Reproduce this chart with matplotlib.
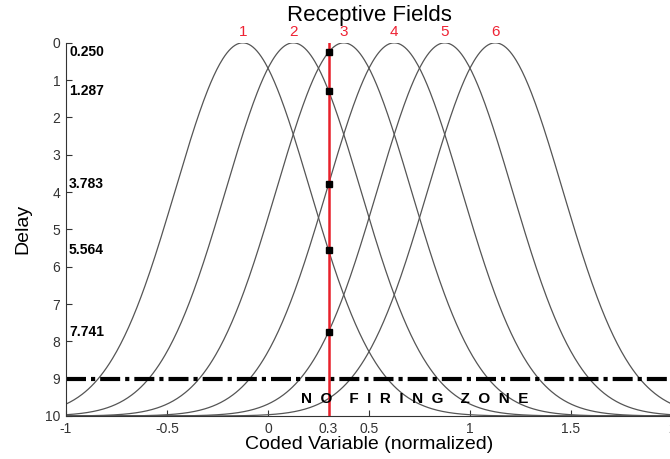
import numpy as np
import matplotlib.pyplot as plt

plt.rcParams['font.family'] = ['Liberation Sans', 'DejaVu Sans']

# receptive field centres (numbered 1..6), width and max delay
centers = [-0.125, 0.125, 0.375, 0.625, 0.875, 1.125]
field_names = ['1', '2', '3', '4', '5', '6']
sigma = 1 / 3
max_delay = 10

# coded value and the delays it produces (fields 3, 2, 4, 1, 5)
x_coded = 0.3
delays = [0.250, 1.287, 3.783, 5.564, 7.741]
delay_labels = ['0.250', '1.287', '3.783', '5.564', '7.741']

no_fire = 9

xticks = [-1, -0.5, 0, 0.3, 0.5, 1, 1.5, 2]
xticklabels = ['-1', '-0.5', '0', '0.3', '0.5', '1', '1.5', '2']

fig = plt.figure(figsize=(6.7, 4.59), dpi=100)
ax = fig.add_axes([0.0985, 0.0937, 0.9045, 0.813])

x = np.linspace(-1, 2, 600)
for c, name in zip(centers, field_names):
    y = max_delay * (1 - np.exp(-(x - c) ** 2 / (2 * sigma ** 2)))
    ax.plot(x, y, color='#555555', lw=0.9)
    ax.text(c, -0.1, name, color='#ee2233', fontsize=11, ha='center', va='bottom')

# red line for the coded value and the resulting delays
ax.plot([x_coded, x_coded], [0, max_delay], color='#e8202a', lw=1.8, zorder=3)
ax.plot([x_coded] * len(delays), delays, 's', color='black', ms=4.5, zorder=4)

for d, lab in zip(delays, delay_labels):
    ax.text(-0.985, d, lab, fontsize=10, fontweight='bold', ha='left', va='center')

ax.plot([-1, 2], [no_fire, no_fire], color='black', lw=3,
        linestyle=(0, (4.8, 1.2, 1, 1.2)), zorder=2)
ax.text(0.725, 9.55, 'N  O    F  I  R  I  N  G    Z  O  N  E', fontsize=11,
        fontweight='bold', ha='center', va='center')

ax.set_xlim(-1, 2)
ax.set_ylim(10, 0)
ax.set_xticks(xticks)
ax.set_xticklabels(xticklabels)
ax.set_yticks(range(0, 11))
ax.tick_params(direction='in', length=4, labelsize=10, colors='#333333', pad=4)
ax.spines['top'].set_visible(False)
ax.spines['right'].set_visible(False)
for s in ['left', 'bottom']:
    ax.spines[s].set_color('#333333')

ax.set_xlabel('Coded Variable (normalized)', fontsize=14, labelpad=0)
ax.set_ylabel('Delay', fontsize=14, labelpad=10)
ax.set_title('Receptive Fields', fontsize=16, pad=16)

fig.savefig('out.png', dpi=100)
